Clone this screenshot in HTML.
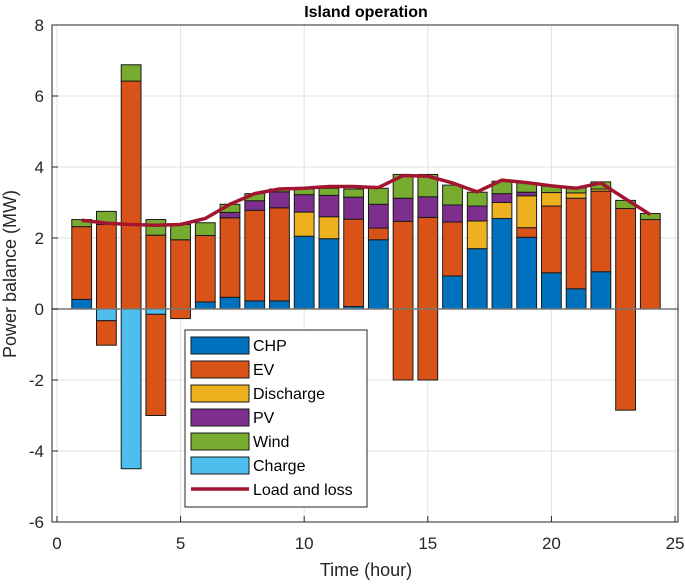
<!DOCTYPE html>
<html><head><meta charset="utf-8"><style>
body{margin:0;background:#fff;font-family:"Liberation Sans",Arial,sans-serif}
svg text{font-family:"Liberation Sans",Arial,sans-serif}
</style></head><body>
<svg id="chart" width="685" height="582" xmlns="http://www.w3.org/2000/svg">
<rect width="685" height="582" fill="#fff"/>
<g id="grid"></g>
<g id="bars"></g>
<g id="line"></g>
<g id="axes"></g>
<text x="366" y="17" font-size="16" font-weight="bold" text-anchor="middle">Island operation</text>
<text x="366" y="576" font-size="18" text-anchor="middle" fill="#262626">Time (hour)</text>
<text transform="translate(16,274) rotate(-90)" font-size="18" text-anchor="middle" fill="#262626">Power balance (MW)</text>
<g id="legend"></g>
</svg>
<script>
const hours=[1,2,3,4,5,6,7,8,9,10,11,12,13,14,15,16,17,18,19,20,21,22,23,24];
const chp=[0.27,0,0,0,0,0.2,0.33,0.23,0.23,2.05,1.98,0.07,1.95,0,0,0.93,1.7,2.55,2.02,1.02,0.57,1.05,0,0];
const evPos=[2.05,2.38,6.42,2.08,1.95,1.87,2.24,2.55,2.62,0,0,2.46,0.33,2.47,2.58,1.52,0,0,0.27,1.88,2.55,2.27,2.83,2.52];
const discharge=[0,0,0,0,0,0,0,0,0,0.68,0.62,0,0,0,0,0,0.78,0.45,0.9,0.38,0.15,0.06,0,0];
const pv=[0,0,0,0,0,0,0.15,0.27,0.45,0.49,0.6,0.62,0.67,0.65,0.58,0.48,0.42,0.25,0.1,0,0,0,0,0];
const wind=[0.2,0.37,0.46,0.44,0.43,0.36,0.23,0.2,0.08,0.16,0.2,0.23,0.45,0.67,0.63,0.56,0.39,0.35,0.27,0.18,0.14,0.2,0.23,0.17];
const charge=[0,-0.33,-4.5,-0.15,0,0,0,0,0,0,0,0,0,0,0,0,0,0,0,0,0,0,0,0];
const evNeg=[0,-0.69,0,-2.85,-0.27,0,0,0,0,0,0,0,0,-2.0,-2.0,0,0,0,0,0,0,0,-2.85,0];
const load=[2.5,2.42,2.38,2.36,2.38,2.55,2.95,3.25,3.38,3.4,3.45,3.45,3.42,3.76,3.74,3.55,3.3,3.63,3.56,3.47,3.4,3.55,3.1,2.66];
const xTicks=[0,5,10,15,20,25];
const yTicks=[-6,-4,-2,0,2,4,6,8];

const L=52,R=678,T=25,B=522;
const XMIN=-0.2,XMAX=25.12;
const X=v=>L+(v-XMIN)/(XMAX-XMIN)*(R-L);
const Y=v=>B-(v+6)/(14)*(B-T);
const NS="http://www.w3.org/2000/svg";
function mk(tag,attrs,parent){const e=document.createElementNS(NS,tag);for(const k in attrs)e.setAttribute(k,attrs[k]);parent.appendChild(e);return e;}
const gGrid=document.getElementById('grid'),gBars=document.getElementById('bars'),gLine=document.getElementById('line'),gAx=document.getElementById('axes'),gLeg=document.getElementById('legend');
xTicks.forEach(t=>{const l=mk('line',{x1:X(t),x2:X(t),y1:T,y2:B,stroke:'#e2e2e2','stroke-width':1},gGrid);

});
yTicks.forEach(t=>{const l=mk('line',{x1:L,x2:R,y1:Y(t),y2:Y(t),stroke:'#e2e2e2','stroke-width':1},gGrid);

});
const cols={chp:'#0072bd',ev:'#d95319',dis:'#edb120',pv:'#7e2f8e',wind:'#77ac30',charge:'#4dbeee'};
const bw=0.8;
hours.forEach((h,i)=>{
  let acc=0;
  [['chp',chp],['ev',evPos],['dis',discharge],['pv',pv],['wind',wind]].forEach(([k,arr])=>{
    const v=arr[i]; if(v<=0) return;
    const r=mk('rect',{x:X(h-bw/2),width:X(bw)-X(0),y:Y(acc+v),height:Y(acc)-Y(acc+v),fill:cols[k],stroke:'#1a1a1a','stroke-width':1},gBars);
    
    
    acc+=v;
  });
  let n=0;
  [['charge',charge],['ev',evNeg]].forEach(([k,arr])=>{
    const v=arr[i]; if(v>=0) return;
    const r=mk('rect',{x:X(h-bw/2),width:X(bw)-X(0),y:Y(n),height:Y(n+v)-Y(n),fill:cols[k],stroke:'#1a1a1a','stroke-width':1},gBars);
    
    
    n+=v;
  });
});
const zl=mk('line',{x1:L,x2:R,y1:Y(0),y2:Y(0),stroke:'#777','stroke-width':1.5},gBars);


const pl=mk('polyline',{points:hours.map((h,i)=>X(h)+','+Y(load[i])).join(' '),fill:'none',stroke:'#a2142f','stroke-width':3.5,'stroke-linejoin':'round'},gLine);


const box=mk('rect',{x:L,y:T,width:R-L,height:B-T,fill:'none',stroke:'#262626','stroke-width':1},gAx);


xTicks.forEach(t=>{mk('line',{x1:X(t),x2:X(t),y1:B,y2:B-6,stroke:'#262626'},gAx);
const tx=mk('text',{x:X(t),y:B+27,'font-size':17,'text-anchor':'middle',fill:'#262626'},gAx);tx.textContent=t;

});
yTicks.forEach(t=>{mk('line',{x1:L,x2:L+6,y1:Y(t),y2:Y(t),stroke:'#262626'},gAx);
const tx=mk('text',{x:L-8,y:Y(t)+6,'font-size':17,'text-anchor':'end',fill:'#262626'},gAx);tx.textContent=t;

});
// legend
const lb=mk('rect',{x:185,y:330,width:182,height:177,fill:'#fff',stroke:'#262626','stroke-width':1},gLeg);


const entries=[['CHP',cols.chp],['EV',cols.ev],['Discharge',cols.dis],['PV',cols.pv],['Wind',cols.wind],['Charge',cols.charge],['Load and loss',null]];
entries.forEach((e,i)=>{
  const cy=345+i*24;
  let s;
  if(e[1]) s=mk('rect',{x:191,y:cy-8,width:58,height:17,fill:e[1],stroke:'#1a1a1a','stroke-width':1},gLeg);
  else s=mk('line',{x1:191,x2:249,y1:cy,y2:cy,stroke:'#a2142f','stroke-width':3.5},gLeg);
  
  
  const t=mk('text',{x:253,y:cy+6,'font-size':16,fill:'#000'},gLeg);t.textContent=e[0];
  
  
});
</script>
</body></html>
